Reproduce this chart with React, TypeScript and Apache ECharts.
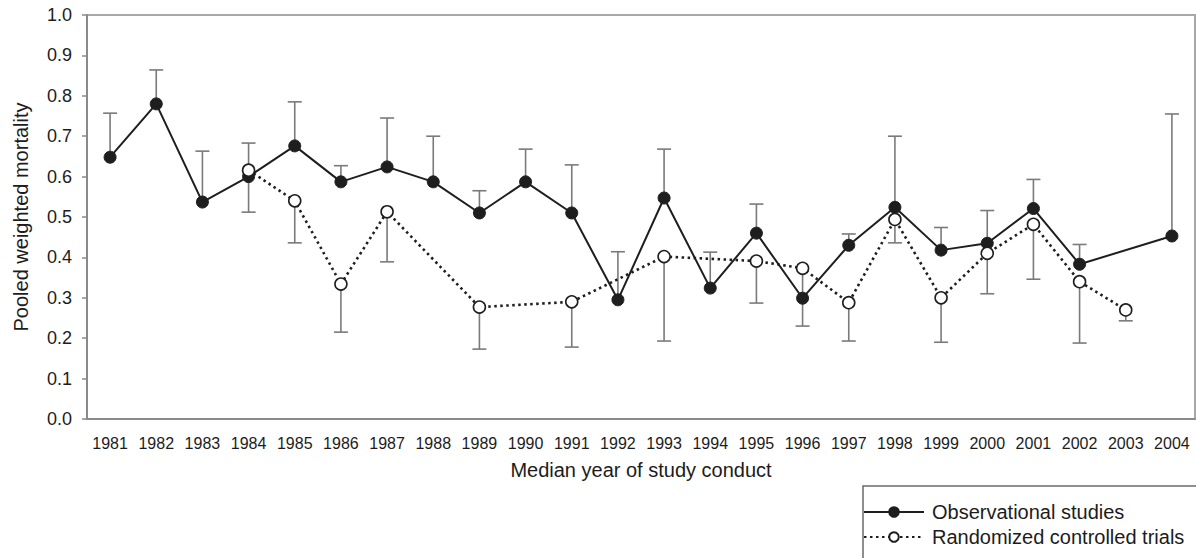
import React, { useEffect, useRef } from "react";
import * as echarts from "echarts";

const years = [
  "1981", "1982", "1983", "1984", "1985", "1986", "1987", "1988", "1989", "1990", "1991", "1992",
  "1993", "1994", "1995", "1996", "1997", "1998", "1999", "2000", "2001", "2002", "2003", "2004",
];
const yTicks = [0, 0.1, 0.2, 0.3, 0.4, 0.5, 0.6, 0.7, 0.8, 0.9, 1.0];

const obsValues = [
  0.648, 0.78, 0.537, 0.6, 0.676, 0.587, 0.624, 0.587, 0.51, 0.587, 0.51, 0.295,
  0.547, 0.324, 0.46, 0.299, 0.43, 0.524, 0.418, 0.435, 0.521, 0.383, null, 0.453,
];
const obsUpper = [
  0.757, 0.864, 0.663, 0.683, 0.785, 0.627, 0.745, 0.7, 0.565, 0.668, 0.629, 0.414,
  0.668, 0.413, 0.532, null, 0.458, 0.7, 0.474, 0.516, 0.593, 0.432, null, 0.755,
];
const rctValues = [
  null, null, null, 0.616, 0.54, 0.334, 0.513, null, 0.277, null, 0.29, null,
  0.402, null, 0.391, 0.373, 0.288, 0.494, 0.3, 0.41, 0.482, 0.34, 0.27, null,
];
const rctLower = [
  null, null, null, 0.512, 0.436, 0.215, 0.389, null, 0.173, null, 0.178, null,
  0.193, null, 0.287, 0.23, 0.193, 0.436, 0.19, 0.31, 0.346, 0.188, 0.243, null,
];

const FONT = "'Liberation Sans', Arial, sans-serif";
const AXIS_GRAY = "#8a8a8a";
const BAR_GRAY = "#7a7a7a";
const INK = "#1e1e1e";
const TEXT = "#1c1c1c";

function errorData(values: (number | null)[], ends: (number | null)[]) {
  const out: any[] = [];
  values.forEach((v, i) => {
    const e = ends[i];
    if (v != null && e != null) out.push([i, v, e]);
  });
  return out;
}

function renderErrorBar(params: any, api: any) {
  const idx = api.value(0);
  const from = api.coord([idx, api.value(1)]);
  const to = api.coord([idx, api.value(2)]);
  const half = 7;
  const style = { stroke: BAR_GRAY, lineWidth: 1.6 };
  return {
    type: "group",
    children: [
      { type: "line", shape: { x1: from[0], y1: from[1], x2: to[0], y2: to[1] }, style },
      { type: "line", shape: { x1: to[0] - half, y1: to[1], x2: to[0] + half, y2: to[1] }, style },
    ],
  };
}

export default function App() {
  const ref = useRef<HTMLDivElement>(null);

  useEffect(() => {
    if (!ref.current) return;
    const chart = echarts.init(ref.current, null, { renderer: "svg" });
    chart.setOption({
      animation: false,
      backgroundColor: "#ffffff",
      textStyle: { fontFamily: FONT },
      grid: {
        left: 87,
        right: 1,
        top: 15,
        bottom: 139,
        show: true,
        borderColor: "#a8a8a8",
        borderWidth: 2,
        containLabel: false,
      },
      legend: {
        data: ["Observational studies", "Randomized controlled trials"],
        orient: "vertical",
        left: 863,
        top: 502,
        padding: 0,
        itemGap: 5,
        itemWidth: 60,
        itemHeight: 12,
        textStyle: {
          fontFamily: FONT,
          fontSize: 20,
          lineHeight: 20,
          color: TEXT,
          padding: [0, 0, 0, 3],
        },
      },
      graphic: [
        {
          type: "rect",
          shape: { x: 863, y: 486, width: 345, height: 80 },
          style: { fill: "none", stroke: "#6a6a6a", lineWidth: 1.5 },
          z: 100,
        },
      ],
      xAxis: {
        type: "category",
        data: years,
        boundaryGap: true,
        name: "Median year of study conduct",
        nameLocation: "middle",
        nameGap: 41,
        nameTextStyle: { fontFamily: FONT, fontSize: 20, color: TEXT },
        axisLine: { lineStyle: { color: AXIS_GRAY, width: 2 } },
        axisTick: { alignWithLabel: true, length: 5, lineStyle: { color: AXIS_GRAY, width: 1.5 } },
        axisLabel: { fontFamily: FONT, fontSize: 16, color: TEXT, margin: 16, interval: 0 },
        splitLine: { show: false },
      },
      yAxis: {
        type: "value",
        min: 0,
        max: 1,
        interval: 0.1,
        name: "Pooled weighted mortality",
        nameLocation: "middle",
        nameGap: 56,
        nameTextStyle: { fontFamily: FONT, fontSize: 20, color: TEXT },
        axisLine: { show: true, lineStyle: { color: AXIS_GRAY, width: 2 } },
        axisTick: { show: true, length: 5, lineStyle: { color: AXIS_GRAY, width: 1.5 } },
        axisLabel: {
          fontFamily: FONT,
          fontSize: 18,
          color: TEXT,
          margin: 15,
          formatter: (v: number) => {
            const t = yTicks.find((k) => Math.abs(k - v) < 1e-6);
            return (t != null ? t : v).toFixed(1);
          },
        },
        splitLine: { show: false },
      },
      series: [
        {
          name: "obsErr",
          type: "custom",
          renderItem: renderErrorBar,
          data: errorData(obsValues, obsUpper),
          encode: { x: 0, y: [1, 2] },
          z: 1,
          silent: true,
        },
        {
          name: "rctErr",
          type: "custom",
          renderItem: renderErrorBar,
          data: errorData(rctValues, rctLower),
          encode: { x: 0, y: [1, 2] },
          z: 1,
          silent: true,
        },
        {
          name: "Randomized controlled trials",
          type: "line",
          data: rctValues,
          connectNulls: true,
          symbol: "circle",
          symbolSize: 12,
          showAllSymbol: true,
          lineStyle: { color: INK, width: 2.6, type: [2.5, 3.5] },
          itemStyle: { color: "#ffffff", borderColor: INK, borderWidth: 1.6 },
          z: 3,
        },
        {
          name: "Observational studies",
          type: "line",
          data: obsValues,
          connectNulls: true,
          symbol: "circle",
          symbolSize: 12,
          showAllSymbol: true,
          lineStyle: { color: INK, width: 2 },
          itemStyle: { color: INK, borderColor: INK, borderWidth: 1 },
          z: 2,
        },
      ],
    });
    return () => chart.dispose();
  }, []);

  return (
    <div
      ref={ref}
      style={{ position: "fixed", left: 0, top: 0, width: 1196, height: 558, background: "#fff" }}
    />
  );
}
